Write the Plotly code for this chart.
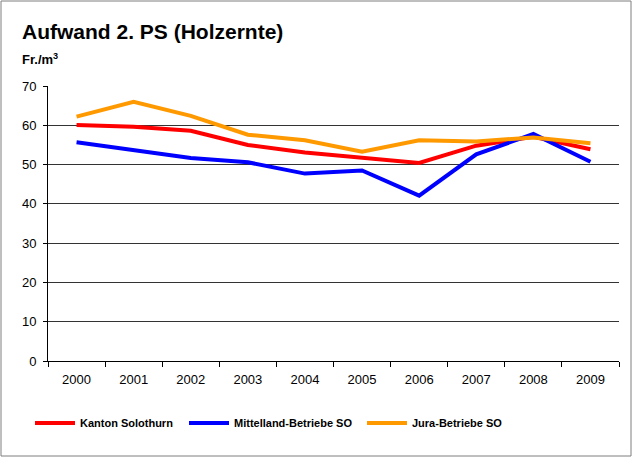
import plotly.graph_objects as go

years = ["2000", "2001", "2002", "2003", "2004", "2005", "2006", "2007", "2008", "2009"]
kanton = [60.1, 59.6, 58.6, 55.0, 53.1, 51.7, 50.4, 54.8, 57.1, 53.9]
mittelland = [55.7, 53.6, 51.7, 50.6, 47.7, 48.5, 42.1, 52.6, 57.8, 50.7]
jura = [62.2, 66.0, 62.4, 57.6, 56.2, 53.3, 56.2, 55.9, 56.9, 55.4]

series = [
    ("Kanton Solothurn", kanton, "#FF0000", "legend"),
    ("Mittelland-Betriebe SO", mittelland, "#0000FF", "legend2"),
    ("Jura-Betriebe SO", jura, "#FF9900", "legend3"),
]

W, H = 632, 457
L, R, T, B = 48, 13, 86, 96
pw, ph = W - L - R, H - T - B

def px(x):
    return (x - L) / pw

def py(y):
    return (H - B - y) / ph

fig = go.Figure()
for name, vals, col, lg in series:
    fig.add_trace(go.Scatter(x=years, y=vals, mode="lines", name="<b>" + name + "</b>",
                             line=dict(color=col, width=4), legend=lg))

def leg(x):
    return dict(orientation="h", x=px(x), xanchor="left", y=py(423), yanchor="middle",
                font=dict(size=11), bgcolor="rgba(0,0,0,0)", itemwidth=40)

fig.update_layout(
    width=W, height=H,
    margin=dict(l=L, r=R, t=T, b=B),
    paper_bgcolor="white", plot_bgcolor="white",
    font=dict(family="Liberation Sans, Arial, sans-serif", size=13, color="black"),
    showlegend=True,
    legend=leg(30), legend2=leg(184), legend3=leg(362),
    xaxis=dict(type="category", tickson="boundaries", ticks="outside", ticklen=5,
               tickcolor="black", showline=True, linecolor="black", linewidth=1,
               showgrid=False, tickfont=dict(size=13), range=[-0.5, 9.5],
               ticklabelstandoff=6),
    yaxis=dict(range=[0, 70], dtick=10, ticks="outside", ticklen=4, tickcolor="black",
               showline=True, linecolor="black", linewidth=1, showgrid=True,
               gridcolor="#333333", gridwidth=1, zeroline=False, tickfont=dict(size=13),
               ticklabelstandoff=4),
    annotations=[
        dict(text="<b>Aufwand 2. PS (Holzernte)</b>", xref="paper", yref="paper",
             x=px(20), y=py(31), xanchor="left", yanchor="middle", showarrow=False,
             font=dict(size=21)),
        dict(text="<b>Fr./m<sup>3</sup></b>", xref="paper", yref="paper",
             x=px(20), y=py(59), xanchor="left", yanchor="middle", showarrow=False,
             font=dict(size=13)),
    ],
    shapes=[
        dict(type="rect", xref="paper", yref="paper", x0=px(1), x1=px(631), y0=py(456), y1=py(1),
             line=dict(color="#7f7f7f", width=1), layer="below"),
    ],
)

fig.write_html("out.html", config={"displayModeBar": False},
               post_script="document.body.style.margin='0';")
